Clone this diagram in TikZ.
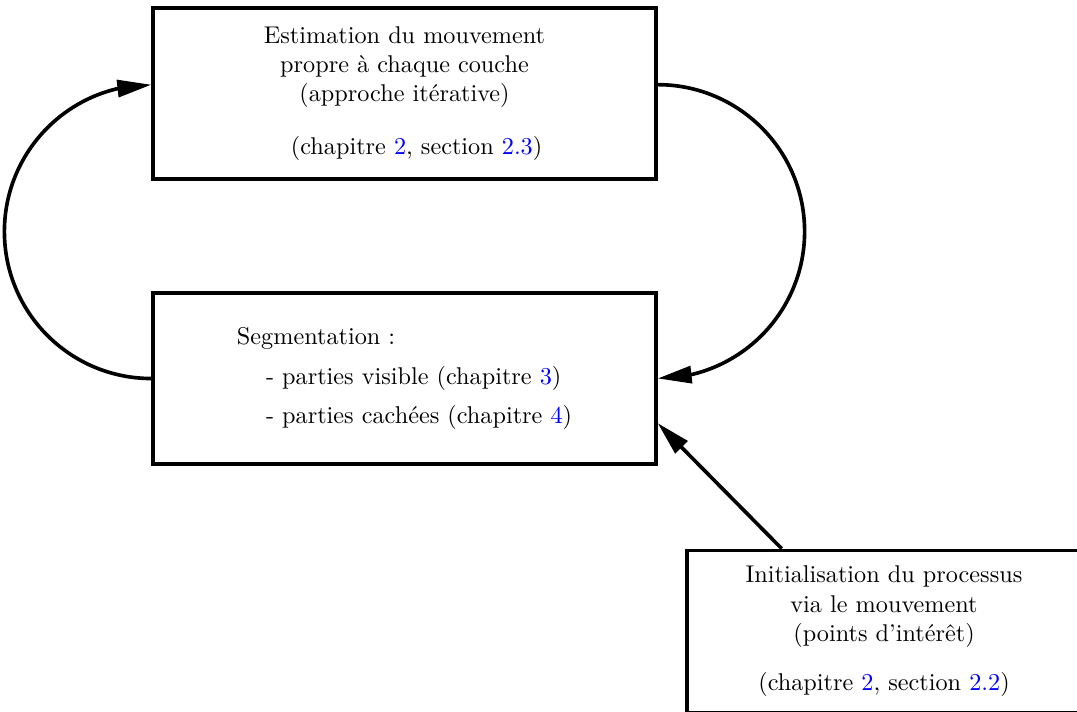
\documentclass[tikz,border=0pt]{standalone}
\usepackage{fontspec}
\usetikzlibrary{positioning,arrows.meta,bending}
\tikzset{line/.style={draw, line width=1.5pt, -{Triangle[length=14pt,width=7pt,flex]}}}
\newcommand{\lien}[1]{\textcolor{blue}{#1}}

\begin{document}
\begin{tikzpicture}[x=0.145mm, y=-0.145mm, line width=1.5pt, block/.style = {draw, rectangle, minimum width=72.9mm, minimum height=24.8mm, align=center}]
\useasboundingbox (0,0) rectangle (1077,711);
\node[block] (est) at (404.5,93.5) {Estimation du mouvement\\ propre à chaque couche\\ (approche itérative)\\[10pt] \hspace*{10pt}(chapitre \lien{2}, section \lien{2.3})};
\node[block,align=left] (seg) [below=16mm of est] {Segmentation :\\[4.4pt] \hspace*{12pt}- parties visible (chapitre \lien{3})\\[4.4pt] \hspace*{12pt}- parties cachées (chapitre \lien{4})};
\node[block,minimum width=57.1mm,minimum height=23.5mm] (init) [below right=12mm and 4mm of seg] {Initialisation du processus\\ via le mouvement\\ (points d'intérêt)\\[8.5pt] (chapitre \lien{2}, section \lien{2.2})};
\draw[line] (seg.west) arc[start angle=270, end angle=90, radius=21.3mm];
\draw[line] (est.2) arc[start angle=90, end angle=-90, radius=21.3mm];
\draw[line] (init.141.5) -- (seg.-10.7);
\end{tikzpicture}
\end{document}
